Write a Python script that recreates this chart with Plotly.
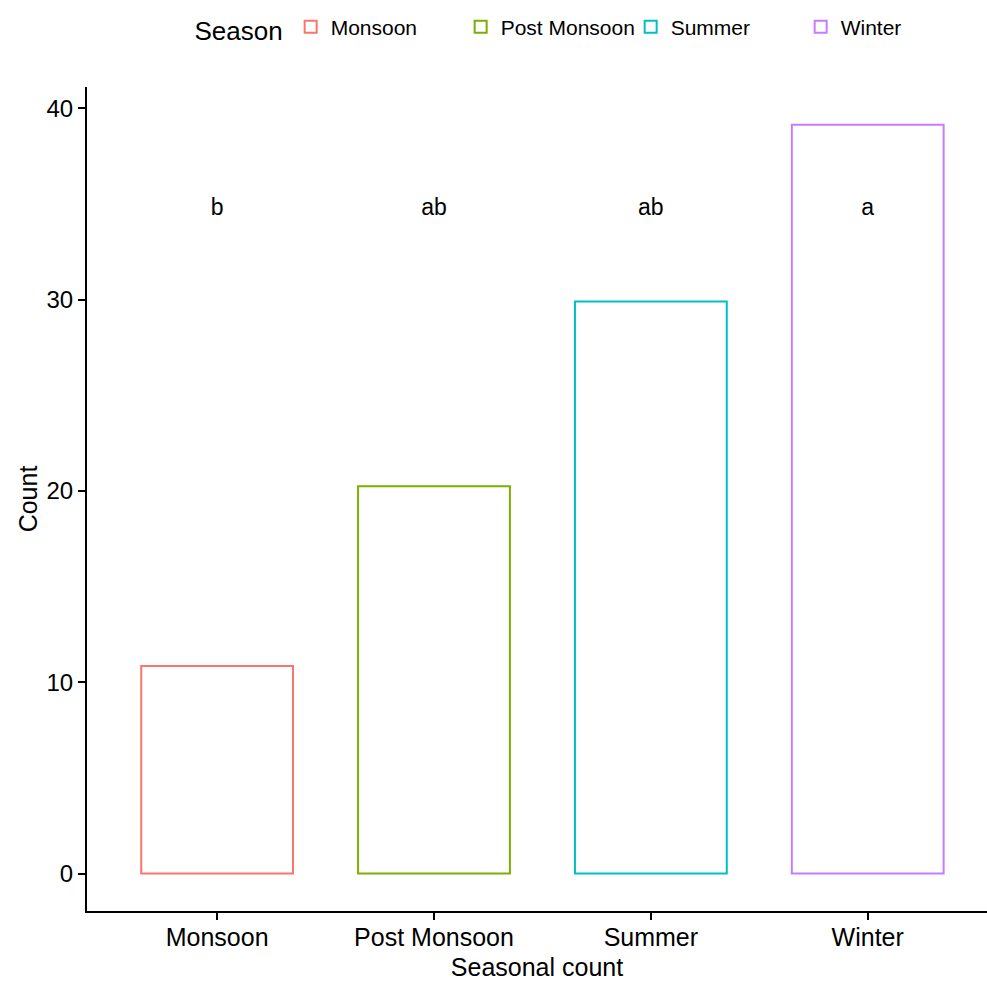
import plotly.graph_objects as go

seasons = ["Monsoon", "Post Monsoon", "Summer", "Winter"]
counts = [10.85, 20.25, 29.9, 39.15]
letters = ["b", "ab", "ab", "a"]
letter_y = [34.75, 34.75, 34.75, 34.75]
colors = ["#F8766D", "#7CAE00", "#00BFC4", "#C77CFF"]
y_ticks = [0, 10, 20, 30, 40]

FONT = "Liberation Sans, Arial, sans-serif"

fig = go.Figure()
for i, s in enumerate(seasons):
    fig.add_trace(go.Bar(
        x=[i + 1], y=[counts[i]], name=s, width=0.7,
        marker=dict(color="white", line=dict(color=colors[i], width=2)),
        showlegend=True,
    ))

fig.add_trace(go.Scatter(
    x=[1, 2, 3, 4], y=letter_y, text=letters, mode="text",
    textfont=dict(size=23, color="black", family=FONT),
    showlegend=False, hoverinfo="skip",
))

fig.update_layout(
    width=987, height=986,
    margin=dict(l=87, r=0, t=87, b=75),
    plot_bgcolor="white", paper_bgcolor="white",
    font=dict(family=FONT, color="black"),
    legend=dict(
        orientation="h", xref="container", yref="container",
        x=0.195, xanchor="left", y=0.971, yanchor="middle",
        title=dict(text="Season", font=dict(size=26)),
        font=dict(size=21), itemsizing="constant",
        entrywidth=125, entrywidthmode="pixels",
    ),
    bargap=0.3,
)
fig.update_xaxes(
    range=[0.4, 4.55], tickmode="array", tickvals=[1, 2, 3, 4], ticktext=seasons,
    showline=True, linecolor="black", linewidth=2, ticks="outside", ticklen=7,
    tickwidth=2, tickcolor="black", tickfont=dict(size=25), showgrid=False, zeroline=False,
    automargin=False, ticklabelstandoff=-4,
    title=dict(text="Seasonal count", font=dict(size=25), standoff=8),
)
fig.update_yaxes(
    range=[-1.96, 41.12], tickmode="array", tickvals=y_ticks,
    showline=True, linecolor="black", linewidth=2, ticks="outside", ticklen=7,
    tickwidth=2, tickcolor="black", tickfont=dict(size=24), showgrid=False, zeroline=False,
    automargin=False,
    title=dict(text="Count", font=dict(size=25), standoff=2),
)

fig.write_html("out.html", config={"displayModeBar": False},
               post_script="document.body.style.margin='0';")
